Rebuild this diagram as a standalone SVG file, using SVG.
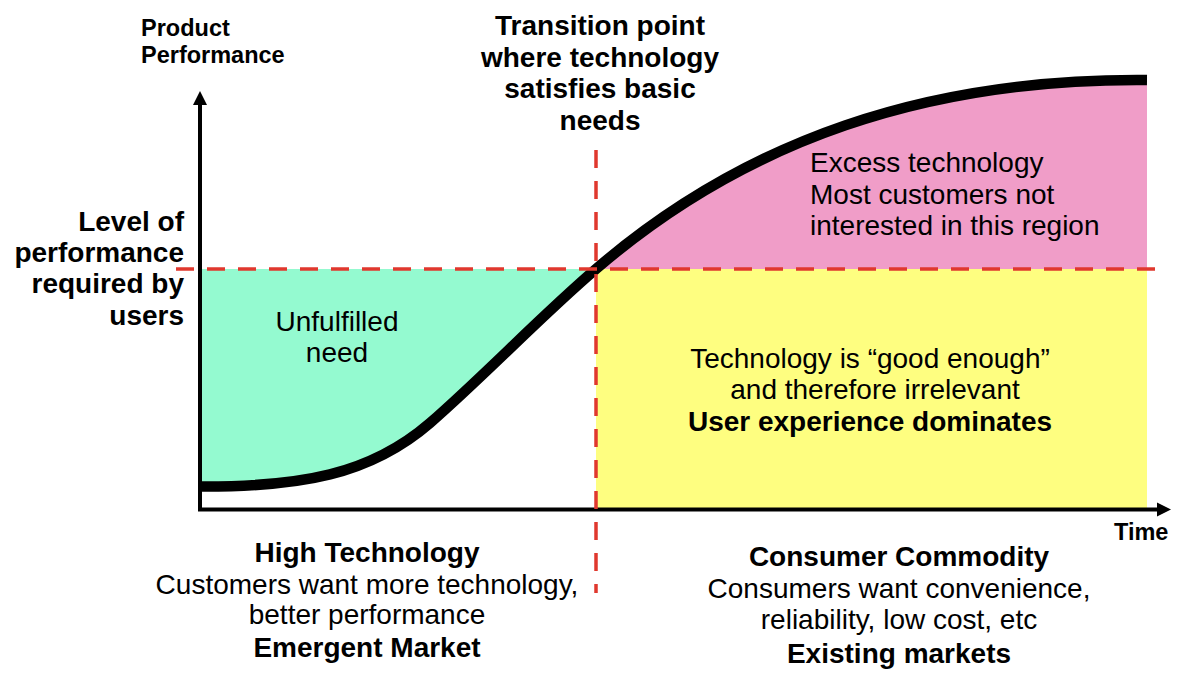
<svg xmlns="http://www.w3.org/2000/svg" width="1180" height="678" viewBox="0 0 1180 678">
  <defs>
    <style>
      text { font-family: "Liberation Sans", Arial, sans-serif; fill: #000; }
      .big { font-size: 28px; }
      .small { font-size: 23.5px; font-weight: bold; }
      .b { font-weight: bold; }
      .mid { text-anchor: middle; }
      .end { text-anchor: end; }
      .dash { stroke: #e0382e; stroke-width: 3.5; fill: none; stroke-dasharray: 18 13; }
      .axis { stroke: #000; stroke-width: 4; fill: none; }
    </style>
  </defs>
  <rect width="1180" height="678" fill="#ffffff"/>

  <g id="regions">
    <path id="unfulfilled-area" d="M200,486.5 C300,487 370,475 430,423 C485,375 541,316 596,269 L200,269 Z" fill="#94fad0"/>
    <path id="excess-area" d="M596,269 C746,140 927,78 1147,80 L1147,269 Z" fill="#f09dc8"/>
    <rect id="good-enough-area" x="596" y="269" width="551" height="240" fill="#fefe80"/>
  </g>

  <g id="axes">
    <line class="axis" x1="200" y1="103" x2="200" y2="511"/>
    <polygon points="193,105 200,91 207,105" fill="#000"/>
    <line class="axis" x1="198" y1="509.5" x2="1158" y2="509.5"/>
    <polygon points="1157,502.5 1171,509.5 1157,516.5" fill="#000"/>
  </g>

  <g id="connectors">
    <path id="performance-curve" d="M200,486.5 C300,487 370,475 430,423 C485,375 541,316 596,269 C746,140 927,78 1147,80" fill="none" stroke="#000" stroke-width="10.5"/>
    <line id="required-level" class="dash" x1="176" y1="269" x2="1160" y2="269"/>
    <line id="transition-line" class="dash" x1="596" y1="150" x2="596" y2="593"/>
  </g>

  <g id="y-axis-label">
    <text class="small" x="141" y="36">Product</text>
    <text class="small" x="141" y="63">Performance</text>
  </g>
  <g id="time-label">
    <text class="small" x="1114" y="540">Time</text>
  </g>
  <g id="transition-label">
    <text class="big b mid" x="600" y="35">Transition point</text>
    <text class="big b mid" x="600" y="67">where technology</text>
    <text class="big b mid" x="600" y="98">satisfies basic</text>
    <text class="big b mid" x="600" y="130">needs</text>
  </g>
  <g id="level-label">
    <text class="big b end" x="184" y="231">Level of</text>
    <text class="big b end" x="184" y="262">performance</text>
    <text class="big b end" x="184" y="293">required by</text>
    <text class="big b end" x="184" y="325">users</text>
  </g>
  <g id="unfulfilled-label">
    <text class="big mid" x="337" y="331">Unfulfilled</text>
    <text class="big mid" x="337" y="362">need</text>
  </g>
  <g id="excess-label">
    <text class="big" x="810" y="172">Excess technology</text>
    <text class="big" x="810" y="204">Most customers not</text>
    <text class="big" x="810" y="235">interested in this region</text>
  </g>
  <g id="good-enough-label">
    <text class="big mid" x="870" y="368">Technology is “good enough”</text>
    <text class="big mid" x="875" y="399">and therefore irrelevant</text>
    <text class="big b mid" x="870" y="431">User experience dominates</text>
  </g>
  <g id="high-tech-label">
    <text class="big b mid" x="367" y="562">High Technology</text>
    <text class="big mid" x="367" y="594">Customers want more technology,</text>
    <text class="big mid" x="367" y="624">better performance</text>
    <text class="big b mid" x="367" y="657">Emergent Market</text>
  </g>
  <g id="commodity-label">
    <text class="big b mid" x="899" y="566">Consumer Commodity</text>
    <text class="big mid" x="899" y="598">Consumers want convenience,</text>
    <text class="big mid" x="899" y="629">reliability, low cost, etc</text>
    <text class="big b mid" x="899" y="663">Existing markets</text>
  </g>
</svg>
